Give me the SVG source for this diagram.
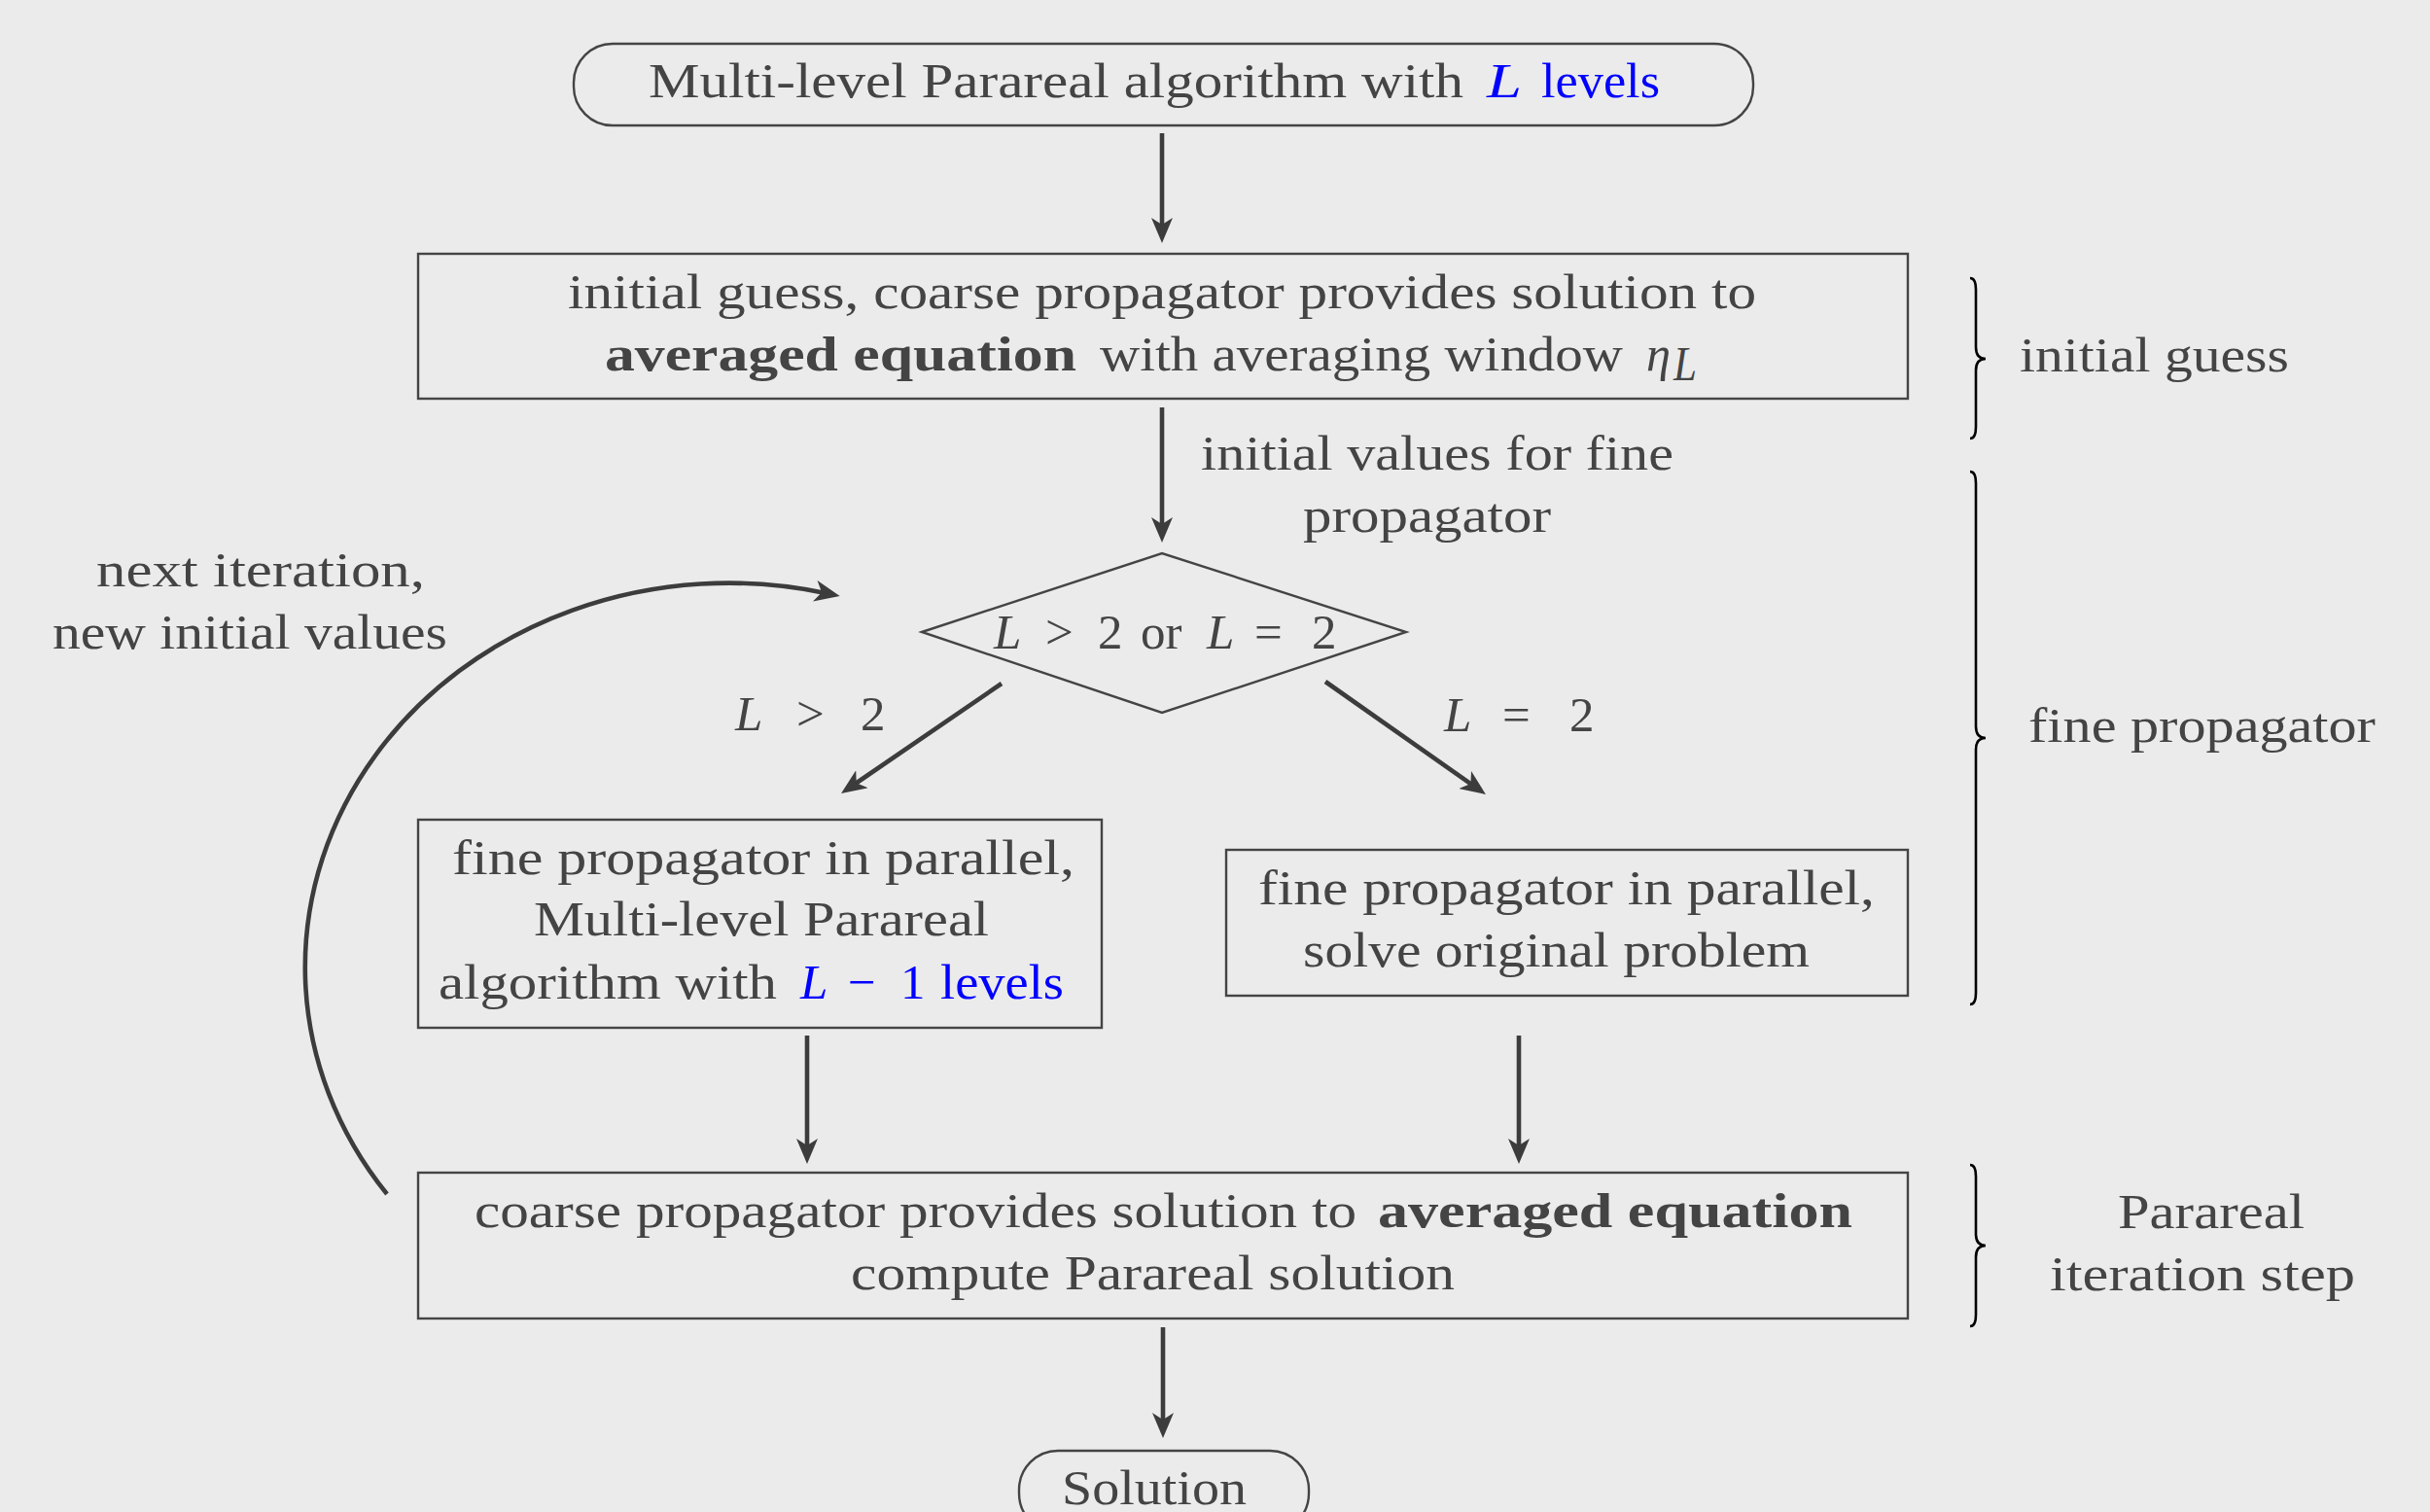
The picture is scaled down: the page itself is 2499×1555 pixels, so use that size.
<svg xmlns="http://www.w3.org/2000/svg" width="2499" height="1555" viewBox="0 0 2499 1555">
<style>
.n{fill:none;stroke:#444;stroke-width:2.4}
.c{fill:none;stroke:#3c3c3c;stroke-width:4.6;marker-end:url(#ah)}
.b{fill:none;stroke:#000;stroke-width:2.6}
.t{font-family:"Liberation Serif",serif;font-size:51px;fill:#444}
.bf{font-weight:bold}
.it{font-style:italic}
.bl{fill:#00f}
</style>
<defs>
<marker id="ah" markerUnits="userSpaceOnUse" markerWidth="26" markerHeight="22" refX="11" refY="11" orient="auto">
<path d="M26,11 L0,0 L7,11 L0,22 Z" fill="#3c3c3c"/>
</marker>
</defs>
<rect width="2499" height="1555" fill="#ebebeb"/>

<g id="start">
<rect class="n" x="590" y="45" width="1213" height="84" rx="40" ry="40"/>
<text class="t" x="667" y="100" textLength="838" lengthAdjust="spacingAndGlyphs">Multi-level Parareal algorithm with</text>
<text class="t it bl" x="1529" y="100" textLength="36" lengthAdjust="spacingAndGlyphs">L</text>
<text class="t bl" x="1585" y="100" textLength="122" lengthAdjust="spacingAndGlyphs">levels</text>
</g>

<g id="initial">
<rect class="n" x="430" y="261" width="1532" height="149"/>
<text class="t" x="584" y="317" textLength="1222" lengthAdjust="spacingAndGlyphs">initial guess, coarse propagator provides solution to</text>
<text class="t bf" x="622" y="381" textLength="485" lengthAdjust="spacingAndGlyphs">averaged equation</text>
<text class="t" x="1131" y="381" textLength="538" lengthAdjust="spacingAndGlyphs">with averaging window</text>
<text class="t it" x="1693" y="381" textLength="25" lengthAdjust="spacingAndGlyphs">η</text>
<text class="t it" x="1721" y="391" font-size="34" textLength="24" lengthAdjust="spacingAndGlyphs">L</text>
</g>

<g id="decision">
<polygon class="n" points="948,650 1195,569 1446,650 1195,733"/>
<text class="t" y="667"><tspan class="it" x="1022">L</tspan><tspan x="1075">&gt;</tspan><tspan x="1129">2</tspan><tspan x="1173">or</tspan><tspan class="it" x="1241">L</tspan><tspan x="1290">=</tspan><tspan x="1349">2</tspan></text>
</g>

<g id="fine-multi">
<rect class="n" x="430" y="843" width="703" height="214"/>
<text class="t" x="465" y="899" textLength="640" lengthAdjust="spacingAndGlyphs">fine propagator in parallel,</text>
<text class="t" x="549" y="962" textLength="468" lengthAdjust="spacingAndGlyphs">Multi-level Parareal</text>
<text class="t" x="451" y="1027" textLength="348" lengthAdjust="spacingAndGlyphs">algorithm with</text>
<text class="t bl" y="1027"><tspan class="it" x="823">L</tspan><tspan x="872">−</tspan><tspan x="926">1</tspan></text>
<text class="t bl" x="967" y="1027" textLength="127" lengthAdjust="spacingAndGlyphs">levels</text>
</g>

<g id="fine-original">
<rect class="n" x="1261" y="874" width="701" height="150"/>
<text class="t" x="1294" y="930" textLength="634" lengthAdjust="spacingAndGlyphs">fine propagator in parallel,</text>
<text class="t" x="1340" y="994" textLength="521" lengthAdjust="spacingAndGlyphs">solve original problem</text>
</g>

<g id="coarse">
<rect class="n" x="430" y="1206" width="1532" height="150"/>
<text class="t" x="488" y="1262" textLength="907" lengthAdjust="spacingAndGlyphs">coarse propagator provides solution to</text>
<text class="t bf" x="1417" y="1262" textLength="488" lengthAdjust="spacingAndGlyphs">averaged equation</text>
<text class="t" x="875" y="1326" textLength="621" lengthAdjust="spacingAndGlyphs">compute Parareal solution</text>
</g>

<g id="solution">
<rect class="n" x="1048" y="1492" width="298" height="84" rx="40" ry="40"/>
<text class="t" x="1092" y="1547" textLength="190" lengthAdjust="spacingAndGlyphs">Solution</text>
</g>

<g id="connectors">
<line class="c" x1="1195" y1="137" x2="1195" y2="235"/>
<line class="c" x1="1195" y1="419" x2="1195" y2="543"/>
<line class="c" x1="1030" y1="703" x2="877.4" y2="807.5"/>
<line class="c" x1="1363" y1="701" x2="1515.7" y2="808.4"/>
<line class="c" x1="830" y1="1065" x2="830" y2="1182"/>
<line class="c" x1="1562" y1="1065" x2="1562" y2="1182"/>
<line class="c" x1="1196" y1="1365" x2="1196" y2="1464"/>
<path class="c" d="M398,1228 A436,395 0 0 1 849,610"/>
<text class="t" x="1235" y="483" textLength="486" lengthAdjust="spacingAndGlyphs">initial values for fine</text>
<text class="t" x="1340" y="547" textLength="255" lengthAdjust="spacingAndGlyphs">propagator</text>
<text class="t" y="751"><tspan class="it" x="756">L</tspan><tspan x="819">&gt;</tspan><tspan x="885">2</tspan></text>
<text class="t" y="752"><tspan class="it" x="1485">L</tspan><tspan x="1545">=</tspan><tspan x="1614">2</tspan></text>
<text class="t" x="99" y="603" textLength="338" lengthAdjust="spacingAndGlyphs">next iteration,</text>
<text class="t" x="54" y="667" textLength="406" lengthAdjust="spacingAndGlyphs">new initial values</text>
</g>

<g id="braces">
<path class="b" d="M2026,286 Q2032,286 2032,298 L2032,357 Q2032,369 2042,369 Q2032,369 2032,381 L2032,439 Q2032,451 2026,451"/>
<text class="t" x="2077" y="382" textLength="277" lengthAdjust="spacingAndGlyphs">initial guess</text>
<path class="b" d="M2026,485 Q2032,485 2032,497 L2032,747 Q2032,759 2042,759 Q2032,759 2032,771 L2032,1021 Q2032,1033 2026,1033"/>
<text class="t" x="2086" y="763" textLength="357" lengthAdjust="spacingAndGlyphs">fine propagator</text>
<path class="b" d="M2026,1198 Q2032,1198 2032,1210 L2032,1269 Q2032,1281 2042,1281 Q2032,1281 2032,1293 L2032,1352 Q2032,1364 2026,1364"/>
<text class="t" x="2178" y="1263" textLength="192" lengthAdjust="spacingAndGlyphs">Parareal</text>
<text class="t" x="2108" y="1327" textLength="314" lengthAdjust="spacingAndGlyphs">iteration step</text>
</g>
</svg>
